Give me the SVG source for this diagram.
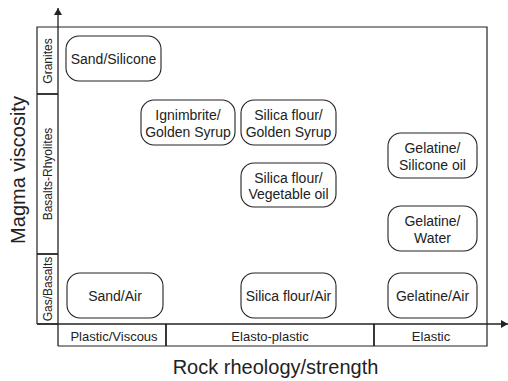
<svg xmlns="http://www.w3.org/2000/svg" width="508" height="381" viewBox="0 0 508 381">
<style>
text{font-family:"Liberation Sans",Arial,sans-serif;fill:#222}
.node rect{fill:#fff;stroke:#222;stroke-width:1.1}
.node text{font-size:14px;text-anchor:middle}
.frame{fill:none;stroke:#222;stroke-width:1.2}
.sep{stroke:#222;stroke-width:1.8}
.axis{stroke:#222;stroke-width:1.3;fill:none}
.strip{font-size:12px;text-anchor:middle}
.cat{font-size:13px;text-anchor:middle}
.title{font-size:20px;text-anchor:middle}
</style>
<defs>
<marker id="arr" markerWidth="8" markerHeight="8" refX="7" refY="4" orient="auto" markerUnits="userSpaceOnUse">
<path d="M0,0 L7,4 L0,8 Z" fill="#222"/>
</marker>
</defs>
<g id="frame">
<polyline class="frame" points="37,324 37,27 487,27 487,346 58,346"/>
<line class="frame" x1="37" y1="324" x2="58" y2="324"/>
<line class="sep" x1="37" y1="94" x2="58" y2="94"/>
<line class="sep" x1="37" y1="254" x2="58" y2="254"/>
<line class="sep" x1="166" y1="324" x2="166" y2="346"/>
<line class="sep" x1="374" y1="324" x2="374" y2="346"/>
<text class="strip" transform="translate(52,61) rotate(-90)">Granites</text>
<text class="strip" transform="translate(52,174) rotate(-90)">Basalts-Rhyolites</text>
<text class="strip" transform="translate(52,289) rotate(-90)">Gas/Basalts</text>
<text class="cat" x="114" y="341">Plastic/Viscous</text>
<text class="cat" x="270" y="341">Elasto-plastic</text>
<text class="cat" x="431" y="341">Elastic</text>
<text class="title" transform="translate(25,170) rotate(-90)">Magma viscosity</text>
<text class="title" x="275.5" y="374">Rock rheology/strength</text>
</g>
<g id="connectors">
<line class="axis" x1="58" y1="346" x2="58" y2="8" marker-end="url(#arr)"/>
<line class="axis" x1="37" y1="324" x2="508" y2="324" marker-end="url(#arr)"/>
</g>
<g id="sand-silicone" class="node"><rect x="66" y="36" width="95" height="45" rx="13"/><text x="113.5" y="63.5">Sand/Silicone</text></g>
<g id="ignimbrite-golden-syrup" class="node"><rect x="141" y="100" width="94" height="45" rx="13"/><text x="188" y="120">Ignimbrite/</text><text x="188" y="136.5">Golden Syrup</text></g>
<g id="silica-golden-syrup" class="node"><rect x="241" y="100" width="95" height="45" rx="13"/><text x="288.5" y="120">Silica flour/</text><text x="288.5" y="136.5">Golden Syrup</text></g>
<g id="gelatine-silicone-oil" class="node"><rect x="388" y="133" width="89" height="45" rx="13"/><text x="432.5" y="153">Gelatine/</text><text x="432.5" y="169.5">Silicone oil</text></g>
<g id="silica-vegetable-oil" class="node"><rect x="241" y="163" width="95" height="44" rx="13"/><text x="288.5" y="182.5">Silica flour/</text><text x="288.5" y="199">Vegetable oil</text></g>
<g id="gelatine-water" class="node"><rect x="388" y="206" width="89" height="45" rx="13"/><text x="432.5" y="226">Gelatine/</text><text x="432.5" y="242.5">Water</text></g>
<g id="sand-air" class="node"><rect x="67" y="273" width="96" height="45" rx="13"/><text x="115" y="300.5">Sand/Air</text></g>
<g id="silica-air" class="node"><rect x="241" y="273" width="95" height="45" rx="13"/><text x="288.5" y="300.5">Silica flour/Air</text></g>
<g id="gelatine-air" class="node"><rect x="388" y="273" width="89" height="45" rx="13"/><text x="432.5" y="300.5">Gelatine/Air</text></g>
</svg>
